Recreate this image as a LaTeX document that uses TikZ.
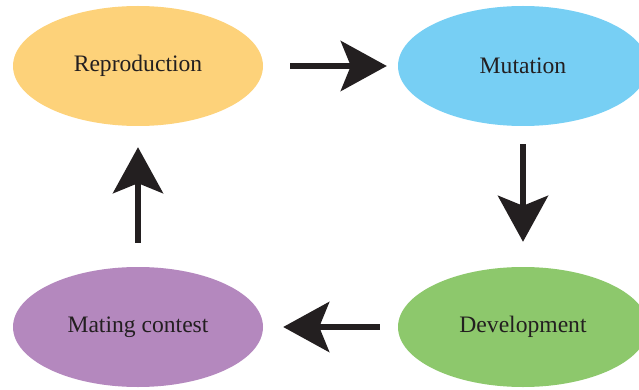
\documentclass[tikz,border=0pt]{standalone}
\usepackage{fontspec}
\setmainfont{Liberation Serif}
\usetikzlibrary{shapes.geometric,arrows.meta}
\definecolor{repc}{HTML}{FDD27A}
\definecolor{mutc}{HTML}{77CFF4}
\definecolor{devc}{HTML}{8DC86C}
\definecolor{matc}{HTML}{B488BE}
\definecolor{txtc}{HTML}{231F20}
\tikzset{
  stage/.style={ellipse, draw=none, minimum width=250pt, minimum height=120pt, inner sep=0pt,
    text=txtc, font=\fontsize{23.6}{28}\selectfont},
  flow/.style={draw=txtc, line width=6pt,
    -{Stealth[length=46pt, width=50pt, inset=10pt, fill=txtc]}}
}
\begin{document}
\begin{tikzpicture}[x=1pt, y=-1pt]
\useasboundingbox (0,0) rectangle (639,390);
\node[stage, fill=repc] (rep) at (138,66) {Reproduction};
\node[stage, fill=mutc] (mut) at (523,66) {Mutation};
\node[stage, fill=devc] (dev) at (523,327) {Development};
\node[stage, fill=matc] (mat) at (138,327) {Mating contest};
\draw[flow, shorten <=27pt, shorten >=11pt] (rep.east) -- (mut.west);
\draw[flow, shorten <=18pt, shorten >=25pt] (mut.south) -- (dev.north);
\draw[flow, shorten <=18pt, shorten >=20pt] (dev.west) -- (mat.east);
\draw[flow, shorten <=24pt, shorten >=21pt] (mat.north) -- (rep.south);
\end{tikzpicture}
\end{document}
